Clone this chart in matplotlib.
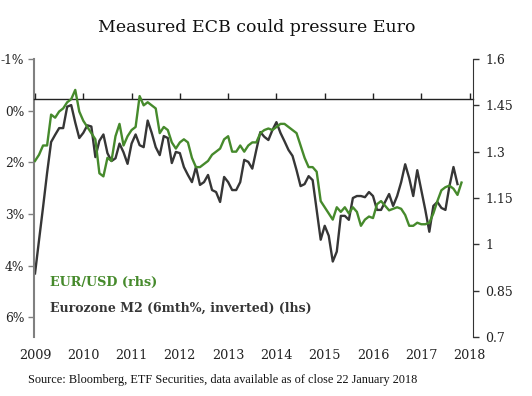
import numpy as np
import matplotlib
matplotlib.use("Agg")
import matplotlib.pyplot as plt

# Eurozone M2, 6mth % change (plotted inverted, left axis), monthly from Jan 2009
m2 = [4.40, 3.56, 2.73, 1.87, 1.09, 0.91, 0.74, 0.74, 0.20, 0.16, 0.60, 0.99,
      0.86, 0.67, 0.70, 1.47, 1.06, 0.90, 1.37, 1.57, 1.50, 1.13, 1.35, 1.64,
      1.13, 0.90, 1.17, 1.22, 0.55, 0.86, 1.22, 1.42, 0.94, 0.99, 1.62, 1.34,
      1.37, 1.72, 1.92, 2.10, 1.72, 2.17, 2.10, 1.92, 2.30, 2.35, 2.60, 1.97,
      2.10, 2.30, 2.30, 2.10, 1.54, 1.59, 1.76, 1.29, 0.84, 0.96, 1.04, 0.79,
      0.59, 0.86, 1.07, 1.29, 1.44, 1.80, 2.20, 2.15, 1.95, 2.05, 2.80, 3.55,
      3.20, 3.45, 4.10, 3.85, 2.95, 2.95, 3.05, 2.50, 2.45, 2.45, 2.48, 2.35,
      2.45, 2.80, 2.80, 2.60, 2.40, 2.70, 2.45, 2.10, 1.65, 2.00, 2.45, 1.80,
      2.30, 2.80, 3.35, 2.70, 2.60, 2.75, 2.80, 2.20, 1.72, 2.15]

# EUR/USD (right axis), monthly from Jan 2009
eurusd = [1.27, 1.29, 1.32, 1.32, 1.42, 1.41, 1.43, 1.44, 1.46, 1.47, 1.50, 1.43,
          1.40, 1.38, 1.36, 1.34, 1.23, 1.22, 1.28, 1.27, 1.35, 1.39, 1.32, 1.35,
          1.37, 1.38, 1.48, 1.45, 1.46, 1.45, 1.44, 1.36, 1.38, 1.37, 1.33, 1.31,
          1.33, 1.34, 1.33, 1.28, 1.25, 1.25, 1.26, 1.27, 1.29, 1.30, 1.31, 1.34,
          1.35, 1.30, 1.30, 1.32, 1.30, 1.32, 1.33, 1.33, 1.36, 1.37, 1.375, 1.37,
          1.38, 1.39, 1.39, 1.38, 1.37, 1.36, 1.32, 1.28, 1.25, 1.25, 1.235, 1.14,
          1.12, 1.10, 1.08, 1.12, 1.105, 1.12, 1.10, 1.12, 1.105, 1.06, 1.08, 1.09,
          1.085, 1.13, 1.14, 1.125, 1.11, 1.115, 1.12, 1.115, 1.095, 1.06, 1.06, 1.07,
          1.065, 1.065, 1.07, 1.10, 1.14, 1.175, 1.185, 1.19, 1.18, 1.16, 1.20]

years = [2009, 2010, 2011, 2012, 2013, 2014, 2015, 2016, 2017, 2018]
left_ticks = [-1, 0.3, 1.6, 2.9, 4.2, 5.5]
left_labels = ['-1%', '0%', '2%', '3%', '4%', '6%']
right_ticks = [0.7, 0.85, 1.0, 1.15, 1.3, 1.45, 1.6]
right_labels = ['0.7', '0.85', '1', '1.15', '1.3', '1.45', '1.6']

GREEN = '#468a2c'
DARK = '#363636'
SERIF = 'DejaVu Serif'

t_m2 = 2009 + np.arange(len(m2)) / 12
t_eur = 2009 + np.arange(len(eurusd)) / 12

fig = plt.figure(figsize=(5.32, 3.96), dpi=100)
ax = fig.add_axes([0.064, 0.149, 0.825, 0.702])
ax.plot(t_m2, m2, color=DARK, lw=1.7)
ax.set_ylim(6, -1)
ax.set_xlim(2008.98, 2018.07)

ax2 = ax.twinx()
ax2.plot(t_eur, eurusd, color=GREEN, lw=1.7)
ax2.set_ylim(0.7, 1.6)

# left axis
ax.set_yticks(left_ticks)
ax.set_yticklabels(left_labels, family=SERIF, fontsize=8.8, color='#222222')
ax.tick_params(axis='y', direction='out', length=4, width=1, color='#808080', pad=3)
ax.spines['left'].set_color('#808080')
ax.spines['left'].set_linewidth(1.5)
ax.spines['top'].set_visible(False)
ax.spines['right'].set_visible(False)

# horizontal axis crossing at 0%
ax.spines['bottom'].set_position(('data', 0))
ax.spines['bottom'].set_color('#222222')
ax.spines['bottom'].set_linewidth(1)
ax.set_xticks(years)
ax.tick_params(axis='x', direction='in', length=4, width=1, color='#222222', labelbottom=False)
for yr in years:
    ax.text(yr, -0.065, str(yr), transform=ax.get_xaxis_transform(), ha='center', va='center',
            family=SERIF, fontsize=9.2, color='#222222')

# right axis
ax2.set_yticks(right_ticks)
ax2.set_yticklabels(right_labels, family=SERIF, fontsize=9, color='#222222')
ax2.tick_params(axis='y', direction='out', length=4, width=1, color='#333333', pad=5)
for s in ['top', 'bottom', 'left']:
    ax2.spines[s].set_visible(False)
ax2.spines['right'].set_color('#333333')

# legend as text
ax.text(0.037, 0.195, 'EUR/USD (rhs)', transform=ax.transAxes, color=GREEN,
        family=SERIF, fontsize=9.2, fontweight='bold', va='center')
ax.text(0.037, 0.105, 'Eurozone M2 (6mth%, inverted) (lhs)', transform=ax.transAxes, color=DARK,
        family=SERIF, fontsize=9, fontweight='bold', va='center')

fig.text(0.483, 0.93, 'Measured ECB could pressure Euro', ha='center', va='center',
         family=SERIF, fontsize=12.5, color='#111111')
fig.text(0.053, 0.04, 'Source: Bloomberg, ETF Securities, data available as of close 22 January 2018',
         ha='left', va='center', family='Liberation Serif', fontsize=8.8, color='#111111')

fig.savefig('out.png', dpi=100)
